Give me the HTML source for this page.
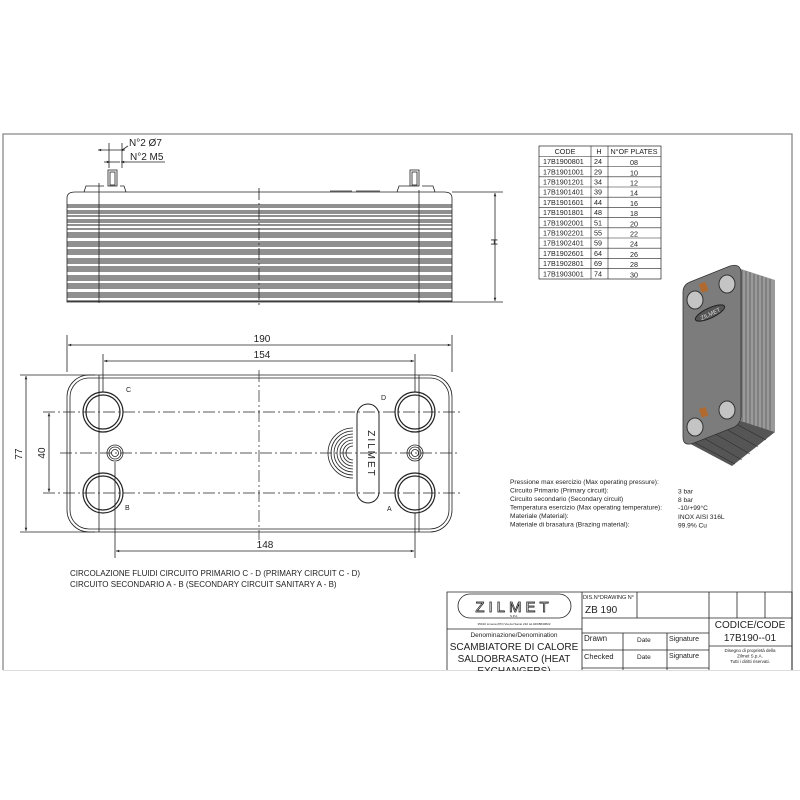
<!DOCTYPE html>
<html><head><meta charset="utf-8"><style>
html,body{margin:0;padding:0;background:#fff;}
svg{display:block;font-family:"Liberation Sans",sans-serif;}
</style></head><body>
<svg width="800" height="800" viewBox="0 0 800 800" xmlns="http://www.w3.org/2000/svg">
<defs>
<marker id="a" viewBox="0 0 10 10" refX="10" refY="5" markerWidth="6" markerHeight="4" orient="auto-start-reverse"><path d="M0,1 L10,5 L0,9 z" fill="#222"/></marker>
</defs>
<rect width="800" height="800" fill="#fff"/>
<path d="M3,670 V134 H792 V670" fill="none" stroke="#888" stroke-width="1.3"/>
<line x1="3" y1="670.5" x2="800" y2="670.5" stroke="#ddd"/>

<!-- SIDE VIEW -->
<g stroke="#222" fill="none" stroke-width="0.8">
<path d="M67,302 V198 Q67,192 75,192 H444 Q452,192 452,198 V302 Z" fill="#fff"/>
<g stroke-width="1">
<line x1="67" y1="205" x2="452" y2="205"/><line x1="67" y1="207" x2="452" y2="207"/>
<line x1="67" y1="211" x2="452" y2="211"/><line x1="67" y1="213" x2="452" y2="213"/><line x1="67" y1="216" x2="452" y2="216"/>
<line x1="67" y1="220" x2="452" y2="220"/><line x1="67" y1="222" x2="452" y2="222"/><line x1="67" y1="225" x2="452" y2="225"/>
<line x1="67" y1="229" x2="452" y2="229"/><line x1="67" y1="233" x2="452" y2="233"/><line x1="67" y1="235" x2="452" y2="235"/>
<line x1="67" y1="237" x2="452" y2="237"/><line x1="67" y1="242" x2="452" y2="242"/><line x1="67" y1="244" x2="452" y2="244"/>
<line x1="67" y1="246" x2="452" y2="246"/><line x1="67" y1="250" x2="452" y2="250"/><line x1="67" y1="252" x2="452" y2="252"/>
<line x1="67" y1="254" x2="452" y2="254"/><line x1="67" y1="259" x2="452" y2="259"/><line x1="67" y1="261" x2="452" y2="261"/>
<line x1="67" y1="263" x2="452" y2="263"/><line x1="67" y1="267" x2="452" y2="267"/><line x1="67" y1="269" x2="452" y2="269"/>
<line x1="67" y1="271" x2="452" y2="271"/><line x1="67" y1="276" x2="452" y2="276"/><line x1="67" y1="278" x2="452" y2="278"/>
<line x1="67" y1="280" x2="452" y2="280"/><line x1="67" y1="284" x2="452" y2="284"/><line x1="67" y1="286" x2="452" y2="286"/>
<line x1="67" y1="288" x2="452" y2="288"/><line x1="67" y1="293" x2="452" y2="293"/><line x1="67" y1="295" x2="452" y2="295"/>
<line x1="67" y1="297" x2="452" y2="297"/><line x1="67" y1="301" x2="452" y2="301"/>
</g>
<line x1="99" y1="183" x2="99" y2="303"/><line x1="419" y1="190" x2="419" y2="303"/>
<line x1="259" y1="188" x2="259" y2="308" stroke-dasharray="12,3,2,3"/>
<path d="M84,192 L86,186 H104 M120,186 H124 L126,192"/>
<rect x="108" y="170" width="9" height="16"/><rect x="110" y="172" width="5" height="13"/>
<path d="M397,192 L399,186 H410 M422,186 H433 L435,192"/>
<rect x="410" y="170" width="9" height="16"/><rect x="412" y="172" width="5" height="13"/>
<line x1="330" y1="191" x2="352" y2="191"/><line x1="356" y1="191" x2="380" y2="191"/>
<line x1="109" y1="143" x2="109" y2="168"/><line x1="122" y1="143" x2="122" y2="168"/>
<line x1="98" y1="150" x2="125" y2="150" marker-start="url(#a)" marker-end="url(#a)"/>
<line x1="110" y1="162" x2="120" y2="162"/>
<line x1="104" y1="162" x2="110" y2="162" marker-end="url(#a)"/>
<line x1="127" y1="162" x2="121" y2="162" marker-end="url(#a)"/>
<line x1="127" y1="162" x2="165" y2="162"/>
<line x1="122" y1="150" x2="128" y2="146"/>
<line x1="452" y1="192" x2="503" y2="192"/><line x1="452" y1="302" x2="503" y2="302"/>
<line x1="495" y1="193" x2="495" y2="301" marker-start="url(#a)" marker-end="url(#a)"/>
</g>
<text x="129" y="146" font-size="10" fill="#222">N°2 Ø7</text>
<text x="130" y="160" font-size="10" fill="#222">N°2 M5</text>
<text x="491" y="242" font-size="9" fill="#222" transform="rotate(90 491 242)" text-anchor="middle">H</text>

<!-- TABLE -->
<g font-size="7.2" fill="#222">
<rect x="539" y="146" width="122" height="133" fill="none" stroke="#222" stroke-width="0.7"/>
<g stroke="#222" stroke-width="0.6">
<line x1="591" y1="146" x2="591" y2="279"/><line x1="608" y1="146" x2="608" y2="279"/>
<line x1="539" y1="156.5" x2="661" y2="156.5"/><line x1="539" y1="166.5" x2="661" y2="166.5"/>
<line x1="539" y1="176.8" x2="661" y2="176.8"/><line x1="539" y1="187" x2="661" y2="187"/>
<line x1="539" y1="197.2" x2="661" y2="197.2"/><line x1="539" y1="207.4" x2="661" y2="207.4"/>
<line x1="539" y1="217.6" x2="661" y2="217.6"/><line x1="539" y1="227.8" x2="661" y2="227.8"/>
<line x1="539" y1="238" x2="661" y2="238"/><line x1="539" y1="248.2" x2="661" y2="248.2"/>
<line x1="539" y1="258.4" x2="661" y2="258.4"/><line x1="539" y1="268.6" x2="661" y2="268.6"/>
</g>
<text x="565" y="154" text-anchor="middle">CODE</text><text x="599" y="154" text-anchor="middle">H</text><text x="634" y="154" text-anchor="middle">N°OF PLATES</text>
<g text-anchor="start">
<text x="543" y="164">17B1900801</text><text x="543" y="174.3">17B1901001</text><text x="543" y="184.5">17B1901201</text>
<text x="543" y="194.7">17B1901401</text><text x="543" y="204.9">17B1901601</text><text x="543" y="215.1">17B1901801</text>
<text x="543" y="225.3">17B1902001</text><text x="543" y="235.5">17B1902201</text><text x="543" y="245.7">17B1902401</text>
<text x="543" y="255.9">17B1902601</text><text x="543" y="266.1">17B1902801</text><text x="543" y="276.3">17B1903001</text>
<text x="594" y="164">24</text><text x="594" y="174.3">29</text><text x="594" y="184.5">34</text><text x="594" y="194.7">39</text>
<text x="594" y="204.9">44</text><text x="594" y="215.1">48</text><text x="594" y="225.3">51</text><text x="594" y="235.5">55</text>
<text x="594" y="245.7">59</text><text x="594" y="255.9">64</text><text x="594" y="266.1">69</text><text x="594" y="276.3">74</text>
</g>
<g text-anchor="middle">
<text x="634" y="165">08</text><text x="634" y="175.3">10</text><text x="634" y="185.5">12</text><text x="634" y="195.7">14</text>
<text x="634" y="205.9">16</text><text x="634" y="216.1">18</text><text x="634" y="226.3">20</text><text x="634" y="236.5">22</text>
<text x="634" y="246.7">24</text><text x="634" y="256.9">26</text><text x="634" y="267.1">28</text><text x="634" y="277.3">30</text>
</g>
</g>

<!-- PHOTO -->
<g>
<polygon points="738,268 775,280 775,432 738,420" fill="#9a9a9a"/>
<g stroke="#444" stroke-width="0.6">
<line x1="742" y1="270" x2="742" y2="421"/><line x1="746" y1="271" x2="746" y2="423"/><line x1="750" y1="272" x2="750" y2="424"/>
<line x1="754" y1="274" x2="754" y2="425"/><line x1="758" y1="275" x2="758" y2="427"/><line x1="762" y1="276" x2="762" y2="428"/>
<line x1="766" y1="278" x2="766" y2="429"/><line x1="770" y1="279" x2="770" y2="430"/>
</g>
<polygon points="683,440 738,420 775,432 732,466" fill="#555"/>
<g stroke="#222" stroke-width="0.5">
<line x1="690" y1="440" x2="735" y2="464"/><line x1="700" y1="436" x2="742" y2="460"/><line x1="712" y1="432" x2="750" y2="454"/>
<line x1="724" y1="428" x2="758" y2="447"/><line x1="736" y1="424" x2="766" y2="440"/>
</g>
<path d="M690,282 L730,266 Q740,263 741,272 L741,417 Q740,425 732,428 L694,443 Q683,447 683,437 L683,292 Q683,285 690,282 Z" fill="#7c7c7c" stroke="#333" stroke-width="0.8"/>
<ellipse cx="695" cy="300" rx="8" ry="9" fill="#c4c4c4" stroke="#333"/>
<ellipse cx="727" cy="284" rx="8" ry="9" fill="#c4c4c4" stroke="#333"/>
<ellipse cx="695" cy="427" rx="8" ry="9" fill="#c4c4c4" stroke="#333"/>
<ellipse cx="727" cy="410" rx="8" ry="9" fill="#c4c4c4" stroke="#333"/>
<rect x="700" y="283" width="7" height="9" fill="#b06a30" transform="rotate(-20 703 287)"/>
<rect x="700" y="408" width="7" height="9" fill="#b06a30" transform="rotate(-20 703 412)"/>
<ellipse cx="710" cy="313" rx="16" ry="5" fill="#555" stroke="#222" transform="rotate(-25 710 313)"/>
<text x="710" y="316" font-size="6" fill="#ddd" text-anchor="middle" transform="rotate(-25 710 313)">ZILMET</text>
</g>

<!-- FRONT VIEW -->
<g stroke="#222" fill="none" stroke-width="0.8">
<rect x="67" y="375" width="385" height="157" rx="22" fill="#fff"/>
<rect x="70" y="378" width="379" height="151" rx="19"/>
<path d="M99,375 V532 M419,375 V532"/>
<line x1="43" y1="412" x2="460" y2="412" stroke-dasharray="12,3,2,3" stroke-width="0.7"/>
<line x1="43" y1="493" x2="460" y2="493" stroke-dasharray="12,3,2,3" stroke-width="0.7"/>
<line x1="60" y1="453" x2="460" y2="453" stroke-dasharray="12,3,2,3" stroke-width="0.7"/>
<line x1="259" y1="370" x2="259" y2="540" stroke-dasharray="12,3,2,3" stroke-width="0.7"/>
<g stroke-width="1.2">
<circle cx="103" cy="412" r="20"/><circle cx="103" cy="412" r="17"/>
<circle cx="103" cy="493" r="20"/><circle cx="103" cy="493" r="17"/>
<circle cx="415" cy="412" r="20"/><circle cx="415" cy="412" r="17"/>
<circle cx="415" cy="493" r="20"/><circle cx="415" cy="493" r="17"/>
</g>
<circle cx="115" cy="453" r="8"/><circle cx="115" cy="453" r="6"/><circle cx="115" cy="453" r="3.5"/>
<circle cx="415" cy="453" r="8"/><circle cx="415" cy="453" r="6"/><circle cx="415" cy="453" r="3.5"/>
<rect x="357" y="404" width="22" height="99" rx="11" stroke-width="1"/>
<path d="M353,428 A25,25 0 0 0 353,478"/><path d="M353,431 A22,22 0 0 0 353,475"/>
<path d="M353,434 A19,19 0 0 0 353,472"/><path d="M353,437 A16,16 0 0 0 353,469"/>
<path d="M353,440 A13,13 0 0 0 353,466"/><path d="M353,443 A10,10 0 0 0 353,463"/>
<path d="M353,446 A7,7 0 0 0 353,460"/>
<line x1="67" y1="335" x2="67" y2="372"/><line x1="452" y1="335" x2="452" y2="372"/>
<line x1="68" y1="345" x2="451" y2="345" marker-start="url(#a)" marker-end="url(#a)"/>
<line x1="103" y1="354" x2="103" y2="392"/><line x1="415" y1="354" x2="415" y2="392"/>
<line x1="104" y1="361" x2="414" y2="361" marker-start="url(#a)" marker-end="url(#a)"/>
<line x1="115" y1="462" x2="115" y2="558"/><line x1="415" y1="513" x2="415" y2="558"/>
<line x1="116" y1="551" x2="414" y2="551" marker-start="url(#a)" marker-end="url(#a)"/>
<line x1="20" y1="375" x2="95" y2="375"/><line x1="20" y1="532" x2="95" y2="532"/>
<line x1="26" y1="376" x2="26" y2="531" marker-start="url(#a)" marker-end="url(#a)"/>
<line x1="49" y1="413" x2="49" y2="492" marker-start="url(#a)" marker-end="url(#a)"/>
</g>
<g fill="#222" font-size="10">
<text x="262" y="342" text-anchor="middle">190</text>
<text x="262" y="358" text-anchor="middle">154</text>
<text x="265" y="548" text-anchor="middle">148</text>
<text x="22" y="454" text-anchor="middle" transform="rotate(-90 22 454)">77</text>
<text x="45" y="453" text-anchor="middle" transform="rotate(-90 45 453)">40</text>
<text x="126" y="392" font-size="7">C</text><text x="381" y="400" font-size="7">D</text>
<text x="125" y="510" font-size="7">B</text><text x="387" y="511" font-size="7">A</text>
<text x="368" y="454" font-size="10" text-anchor="middle" transform="rotate(90 368 454)" letter-spacing="2">ZILMET</text>
<text x="70" y="576" font-size="8">CIRCOLAZIONE FLUIDI CIRCUITO PRIMARIO C - D (PRIMARY CIRCUIT C - D)</text>
<text x="70" y="587" font-size="8">CIRCUITO SECONDARIO A - B (SECONDARY CIRCUIT SANITARY A - B)</text>
</g>

<!-- SPECS -->
<g fill="#222" font-size="6.6">
<text x="510" y="484">Pressione max esercizio (Max operating pressure):</text>
<text x="510" y="492.5">Circuito Primario (Primary circuit):</text>
<text x="510" y="501">Circuito secondario (Secondary circuit)</text>
<text x="510" y="509.5">Temperatura esercizio (Max operating temperature):</text>
<text x="510" y="518">Materiale (Material):</text>
<text x="510" y="526.5">Materiale di brasatura (Brazing material):</text>
<text x="678" y="493.5">3 bar</text><text x="678" y="502">8 bar</text>
<text x="678" y="510">-10/+99°C</text><text x="678" y="519">INOX AISI 316L</text><text x="678" y="527.5">99.9% Cu</text>
</g>

<!-- TITLE BLOCK -->
<g stroke="#222" fill="none" stroke-width="0.8">
<path d="M447,670 V592 H792 V670"/>
<line x1="582" y1="592" x2="582" y2="670"/>
<line x1="709" y1="592" x2="709" y2="670"/>
<line x1="737" y1="592" x2="737" y2="618"/><line x1="765" y1="592" x2="765" y2="618"/>
<line x1="637" y1="592" x2="637" y2="618"/>
<line x1="582" y1="618" x2="792" y2="618"/>
<line x1="709" y1="646" x2="792" y2="646"/>
<line x1="447" y1="629" x2="582" y2="629"/>
<line x1="582" y1="633" x2="709" y2="633"/><line x1="582" y1="650" x2="709" y2="650"/><line x1="582" y1="668" x2="709" y2="668"/>
<line x1="623" y1="633" x2="623" y2="670"/><line x1="667" y1="633" x2="667" y2="670"/>
<rect x="458" y="594" width="113" height="24" rx="12"/>
</g>
<g fill="#222">
<text x="514" y="612" font-size="15" text-anchor="middle" letter-spacing="4" stroke="#111" stroke-width="0.7" fill="#fff">ZILMET</text>
<text x="514" y="617" font-size="3" text-anchor="middle">S.P.A.</text>
<text x="514" y="625" font-size="3" text-anchor="middle">35010 Limena (PD) Via del Santo 242 tel.049/8840822</text>
<text x="514" y="637" font-size="6.5" text-anchor="middle">Denominazione/Denomination</text>
<text x="514" y="650" font-size="10" text-anchor="middle">SCAMBIATORE DI CALORE</text>
<text x="514" y="662" font-size="10" text-anchor="middle">SALDOBRASATO (HEAT</text>
<text x="514" y="674" font-size="10" text-anchor="middle">EXCHANGERS)</text>
<text x="583" y="599" font-size="5.5">DIS.N°DRAWING N°</text>
<text x="585" y="613" font-size="10">ZB 190</text>
<text x="584" y="641" font-size="8">Drawn</text>
<text x="637" y="642" font-size="6.5">Date</text>
<text x="669" y="641" font-size="7">Signature</text>
<text x="584" y="659" font-size="7.5">Checked</text>
<text x="637" y="659" font-size="6.5">Date</text>
<text x="669" y="658" font-size="7">Signature</text>
<text x="750" y="628" font-size="10" text-anchor="middle">CODICE/CODE</text>
<text x="750" y="641" font-size="10" text-anchor="middle">17B190--01</text>
<text x="750" y="652" font-size="4.5" text-anchor="middle">Disegno di proprietà della</text>
<text x="750" y="657.5" font-size="4.5" text-anchor="middle">Zilmet S.p.A.</text>
<text x="750" y="663" font-size="4.5" text-anchor="middle">Tutti i diritti riservati.</text>
</g>
<rect x="0" y="671" width="800" height="129" fill="#fff"/>
</svg>
</body></html>
